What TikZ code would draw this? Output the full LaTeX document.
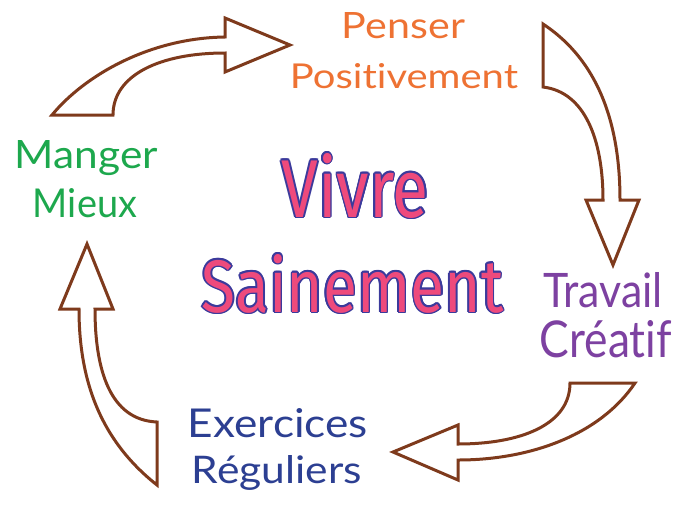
\documentclass[tikz,border=0pt]{standalone}
\usepackage{fontspec}
\usepackage{graphicx}
\setmainfont{Lato}[Ligatures={NoCommon,NoContextual}]
\newfontfamily\centerfont{Fira Sans}[Ligatures={NoCommon}]
\definecolor{arrowbrown}{HTML}{7E3A1C}
\definecolor{penseror}{HTML}{EE7233}
\definecolor{mangergr}{HTML}{1DA84D}
\definecolor{travailpu}{HTML}{7D41A1}
\definecolor{exerbl}{HTML}{2C3F92}
\definecolor{pinkfill}{HTML}{EE4A7C}
\definecolor{outblue}{HTML}{3B3A9C}
\tikzset{
  hollowarrow/.style={draw=arrowbrown, fill=white, line width=3pt, line join=miter},
  lab/.style={anchor=base, inner sep=0pt},
}
\begin{document}
\begin{tikzpicture}[x=1pt,y=-1pt]
\useasboundingbox[fill=white] (0,0) rectangle (682,504);
% arrow 1: Manger -> Penser
\draw[hollowarrow] (52,115) .. controls (85,75) and (150,38) .. (225,37)
  -- (225,18) -- (290,45) -- (225,72) -- (225,53)
  .. controls (160,53) and (113,75) .. (113,115) -- cycle;
% arrow 2: Penser -> Travail
\draw[hollowarrow] (543,24) .. controls (590,55) and (620,110) .. (620,200)
  -- (639,200) -- (613,265) -- (586,200) -- (603,200)
  .. controls (603,140) and (585,92) .. (543,87) -- cycle;
% arrow 3: Travail -> Exercices
\draw[hollowarrow] (635,383) .. controls (600,435) and (530,460) .. (458,460)
  -- (458,480) -- (393,452) -- (458,425) -- (458,444)
  .. controls (520,444) and (570,425) .. (570,383) -- cycle;
% arrow 4: Exercices -> Manger
\draw[hollowarrow] (157,485) .. controls (100,440) and (79,380) .. (79,309)
  -- (60,309) -- (87,244) -- (113,309) -- (95,309)
  .. controls (95,370) and (110,420) .. (157,422) -- cycle;
% labels
\node[lab, text=penseror] (penser) at (403.5,38) {\resizebox{123pt}{26pt}{Penser}};
\node[lab, text=penseror] (positiv) at (404,88) {\resizebox{228pt}{25pt}{Positivement}};
\node[lab, text=mangergr] (manger) at (86.5,168) {\resizebox{143pt}{28pt}{Manger}};
\node[lab, text=mangergr] (mieux) at (85,217) {\resizebox{104pt}{29pt}{Mieux}};
\node[lab, text=travailpu] (travail) at (603,307) {\resizebox{120pt}{35pt}{Travail}};
\node[lab, text=travailpu] (creatif) at (606,357) {\resizebox{132pt}{37pt}{Créatif}};
\node[lab, text=exerbl] (exercices) at (278,437) {\resizebox{180pt}{29pt}{Exercices}};
\node[lab, text=exerbl] (reguliers) at (277,483) {\resizebox{170pt}{28pt}{Réguliers}};
% centre title with outline (blue copies behind the pink text)
\foreach \a in {0,30,...,330}{
  \node[lab, text=outblue] at ([shift={(\a:1.6)}]355,217) {\resizebox{147pt}{64pt}{\centerfont Vivre}};
  \node[lab, text=outblue] at ([shift={(\a:1.6)}]352.5,312) {\resizebox{302pt}{58pt}{\centerfont Sainement}};
}
\node[lab, text=pinkfill] (vivre) at (355,217) {\resizebox{147pt}{64pt}{\centerfont Vivre}};
\node[lab, text=pinkfill] (sainement) at (352.5,312) {\resizebox{302pt}{58pt}{\centerfont Sainement}};
\end{tikzpicture}
\end{document}
